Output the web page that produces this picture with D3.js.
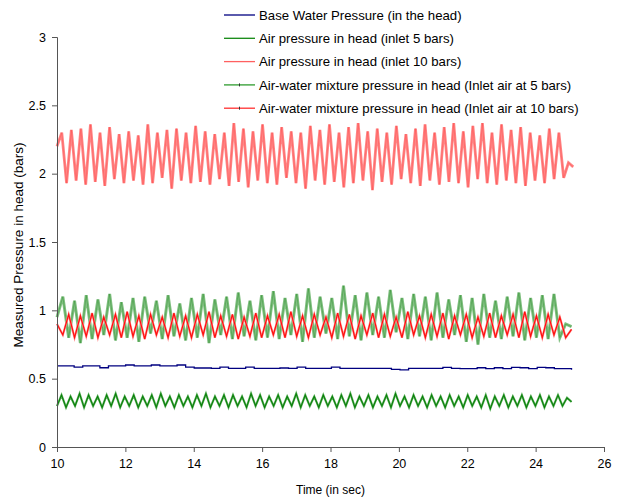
<!DOCTYPE html>
<html>
<head>
<meta charset="utf-8">
<script src="https://cdn.jsdelivr.net/npm/d3@7/dist/d3.min.js"></script>
<style>
  body { margin: 0; background: #fff; }
  svg { display: block; font-family: "Liberation Sans", Arial, sans-serif; }
</style>
</head>
<body>
<svg id="chart" width="619" height="499"></svg>
<script>
// ---- data ----
const seriesNames = [
  "Base Water Pressure (in the head)",
  "Air pressure in head (inlet 5 bars)",
  "Air pressure in head (inlet 10 bars)",
  "Air-water mixture pressure in head (Inlet air at 5 bars)",
  "Air-water mixture pressure in head (Inlet air at 10 bars)"
];
const xTicks = [10, 12, 14, 16, 18, 20, 22, 24, 26];
const yTicks = [0, 0.5, 1, 1.5, 2, 2.5, 3];
const tStart = 10;
const tEnd = 25.1;

const baseWater = [0.593,0.593,0.585,0.593,0.593,0.580,0.593,0.593,0.600,0.593,0.593,0.600,
  0.593,0.593,0.600,0.585,0.578,0.578,0.576,0.585,0.576,0.576,0.585,0.576,0.576,0.576,
  0.578,0.576,0.585,0.576,0.576,0.576,0.584,0.576,0.576,0.576,0.576,0.576,0.576,0.568,
  0.565,0.576,0.576,0.576,0.576,0.583,0.576,0.573,0.573,0.580,0.573,0.580,0.573,0.583,
  0.580,0.573,0.582,0.580,0.573,0.573,0.565];

const air5 = [0.30,0.38,0.29,0.37,0.30,0.39,0.29,0.38,0.30,0.37,0.29,0.38,0.30,0.39,0.29,
  0.37,0.30,0.38,0.29,0.37,0.30,0.38,0.29,0.39,0.30,0.37,0.29,0.38,0.30,0.37,0.29,0.38,
  0.30,0.39,0.29,0.37,0.30,0.38,0.29,0.38,0.30,0.37,0.29,0.39,0.30,0.38,0.29,0.37,0.30,
  0.38,0.29,0.37,0.30,0.39,0.29,0.38,0.30,0.37,0.29,0.38,0.30,0.37,0.29,0.38,0.30,0.39,
  0.29,0.37,0.30,0.38,0.29,0.37,0.30,0.38,0.29,0.39,0.30,0.37,0.29,0.38,0.30,0.37,0.29,
  0.38,0.30,0.37,0.29,0.38,0.30,0.37,0.29,0.38,0.30,0.37,0.29,0.38,0.28,0.37,0.30,0.38,
  0.29,0.37,0.30,0.38,0.29,0.37,0.30,0.38,0.29,0.37,0.30,0.38,0.30,0.36,0.33];

const air10 = [2.20,2.30,1.93,2.32,1.95,2.33,1.92,2.36,1.94,2.30,1.91,2.34,1.96,2.29,1.93,
  2.31,1.95,2.28,1.92,2.36,1.93,2.30,1.97,2.32,1.89,2.33,1.95,2.30,1.93,2.35,1.94,2.31,
  1.92,2.29,1.96,2.30,1.91,2.37,1.94,2.33,1.90,2.31,1.95,2.36,1.93,2.30,1.92,2.34,1.97,
  2.31,1.93,2.30,1.89,2.35,1.95,2.32,1.92,2.36,1.94,2.30,1.90,2.34,1.93,2.37,1.95,2.31,
  1.88,2.33,1.94,2.30,1.92,2.35,1.96,2.29,1.93,2.33,1.91,2.36,1.95,2.30,1.92,2.34,1.94,
  2.37,1.93,2.31,1.90,2.35,1.96,2.37,1.93,2.30,1.92,2.36,1.95,2.32,1.93,2.34,1.91,2.30,
  1.95,2.28,1.93,2.33,1.96,2.30,1.97,2.08,2.05];

const mix5 = [0.95,1.10,0.80,1.07,0.76,1.11,0.79,1.08,0.82,1.12,0.78,1.06,0.80,1.09,0.77,
  1.10,0.83,1.07,0.79,1.11,0.81,1.05,0.78,1.09,0.80,1.12,0.76,1.08,0.82,1.10,0.79,1.13,
  0.81,1.07,0.78,1.11,0.80,1.14,0.79,1.09,0.82,1.12,0.77,1.16,0.80,1.10,0.83,1.09,0.79,
  1.18,0.81,1.11,0.78,1.13,0.82,1.10,0.80,1.15,0.84,1.09,0.79,1.12,0.81,1.10,0.78,1.13,
  0.80,1.08,0.82,1.11,0.77,1.09,0.75,1.12,0.80,1.07,0.79,1.10,0.81,1.13,0.78,1.09,0.80,
  1.11,0.79,1.12,0.80,0.90,0.88];

const mix10 = [0.90,0.82,0.97,0.80,0.96,0.81,0.98,0.80,0.95,0.82,0.97,0.80,0.99,0.81,0.96,
  0.79,0.97,0.82,0.95,0.80,0.98,0.81,0.96,0.80,0.97,0.82,0.99,0.80,0.96,0.81,0.97,0.79,
  0.95,0.81,0.98,0.80,0.96,0.82,0.97,0.80,0.99,0.81,0.96,0.80,0.97,0.82,0.95,0.80,0.98,
  0.81,0.97,0.79,0.96,0.82,0.98,0.80,0.97,0.81,0.95,0.80,0.99,0.82,0.96,0.80,0.97,0.81,
  0.98,0.79,0.96,0.82,0.97,0.80,0.95,0.81,0.98,0.80,0.96,0.82,0.97,0.80,0.99,0.81,0.96,
  0.80,0.97,0.82,0.95,0.80,0.86];

(function () {
// ---- layout ----
const svg = d3.select("#chart");
const mLeft = 57, mRight = 604, mTop = 37, mBottom = 447;
const x = d3.scaleLinear().domain([10, 26]).range([mLeft, mRight]);
const y = d3.scaleLinear().domain([0, 3]).range([mBottom, mTop]);

function toPoints(vals, endT) {
  const step = (endT - tStart) / (vals.length - 1);
  return vals.map((v, i) => [tStart + i * step, v]);
}

const line = d3.line().x(d => x(d[0])).y(d => y(d[1]));
const stepLine = d3.line().x(d => x(d[0])).y(d => y(d[1])).curve(d3.curveStepAfter);

function draw(data, gen, color, width, opacity) {
  g.append("path").datum(data).attr("d", gen)
    .attr("fill", "none").attr("stroke", color).attr("stroke-width", width)
    .attr("stroke-linejoin", "miter").attr("opacity", opacity == null ? 1 : opacity);
}

// series
const g = svg.append("g");
const pAir10 = toPoints(air10, tEnd);
const pMix5 = toPoints(mix5, 25.05);
const pMix10 = toPoints(mix10, 25.05);
const pBase = toPoints(baseWater, 25.05);
const pAir5 = toPoints(air5, 25.05);
draw(pAir10, line, "#ff8585", 2.8);
draw(pAir10, line, "#ff3030", 0.6, 0.5);
draw(pMix5, line, "#80c080", 3.0);
draw(pMix5, line, "#2a8a2a", 0.7, 0.6);
draw(pMix10, line, "#ff9090", 2.2);
draw(pMix10, line, "#ff1010", 1.2);
draw(pBase, stepLine, "#000080", 1.3);
draw(pAir5, line, "#6cb86c", 2.2);
draw(pAir5, line, "#0a800a", 1.1);

// axes
const axisColor = "#555";
const xAxis = svg.append("g").attr("transform", `translate(0,${mBottom})`)
  .call(d3.axisBottom(x).tickValues(xTicks).tickSize(5).tickPadding(7).tickFormat(d3.format("d")));
const yAxis = svg.append("g").attr("transform", `translate(${mLeft},0)`)
  .call(d3.axisLeft(y).tickValues(yTicks).tickSize(5).tickPadding(6).tickFormat(d => String(d)));
[xAxis, yAxis].forEach(a => {
  a.select(".domain").attr("stroke", axisColor);
  a.selectAll(".tick line").attr("stroke", axisColor);
  a.selectAll(".tick text").attr("fill", "#000").style("font-size", "12.5px")
    .style("font-family", "'Liberation Sans', Arial, sans-serif");
});

// axis titles
svg.append("text").attr("x", (mLeft + mRight) / 2).attr("y", 494)
  .attr("text-anchor", "middle").style("font-size", "12px").text("Time (in sec)");
svg.append("text").attr("transform", `translate(23,245) rotate(-90)`)
  .attr("text-anchor", "middle").style("font-size", "13.5px")
  .text("Measured Pressure in head (bars)");

// legend
const legendColors = ["#000080", "#118811", "#ff6060", "#2e9b2e", "#ff3030"];
const legendTicks = [false, false, false, true, true];
const lg = svg.append("g");
seriesNames.forEach((name, i) => {
  const cy = 15 + i * 23.3;
  lg.append("line").attr("x1", 224).attr("x2", 255).attr("y1", cy).attr("y2", cy)
    .attr("stroke", legendColors[i]).attr("stroke-width", 1.3);
  if (legendTicks[i]) {
    lg.append("line").attr("x1", 239.5).attr("x2", 239.5).attr("y1", cy - 1.5).attr("y2", cy + 1.5)
      .attr("stroke", "#333").attr("stroke-width", 1);
  }
  lg.append("text").attr("x", 259).attr("y", cy + 4.7).style("font-size", "13.2px").text(name);
});
})();
</script>
</body>
</html>
